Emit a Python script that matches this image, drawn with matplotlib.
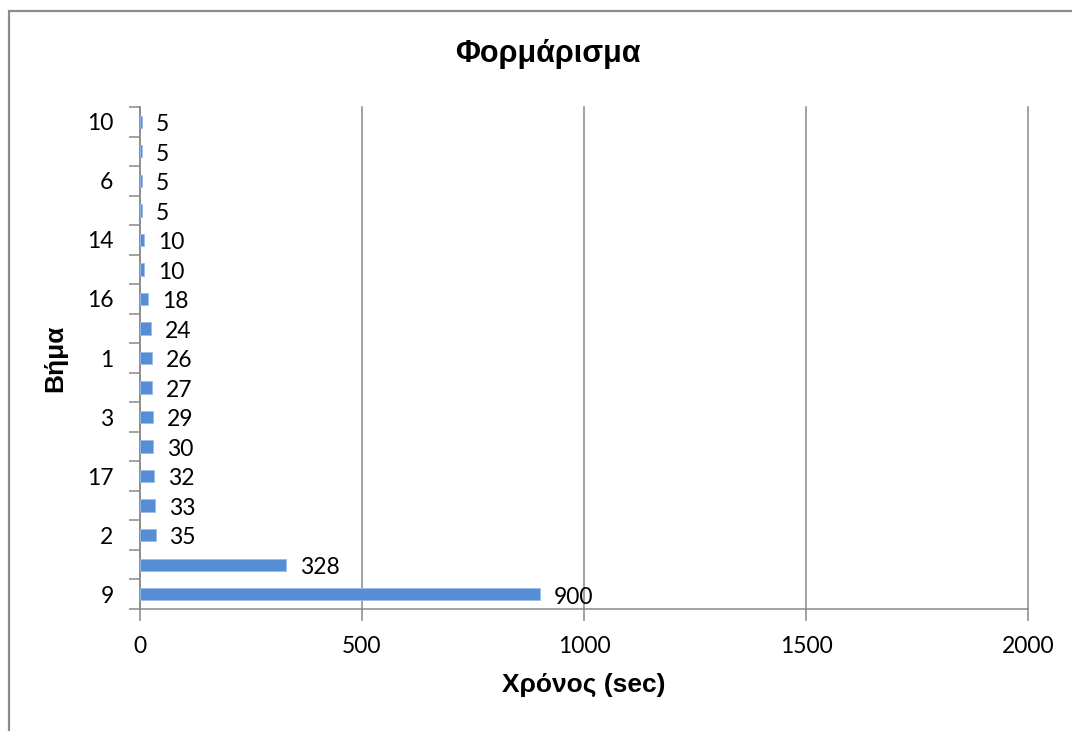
import matplotlib
matplotlib.use("Agg")
import matplotlib.pyplot as plt
from matplotlib.patches import Rectangle
from matplotlib.ticker import FixedLocator

# steps listed bottom to top, with their times in seconds
steps = ['9', '8', '2', '4', '17', '13', '3', '5', '1', '12', '16', '15', '14', '11', '6', '7', '10']
times = [900, 328, 35, 33, 32, 30, 29, 27, 26, 24, 18, 10, 10, 5, 5, 5, 5]
x_ticks = [0, 500, 1000, 1500, 2000]

BAR = '#558ED5'
GRID = '#898989'
NUM_FONT = ['Lato', 'DejaVu Sans']
HEAD_FONT = ['Liberation Sans', 'DejaVu Sans']
NUM_SIZE = 16.5

W, H = 1072, 731
fig = plt.figure(figsize=(W / 100, H / 100), dpi=100)
ax = fig.add_axes([140 / W, 1 - 609 / H, (1028 - 140) / W, (609 - 107) / H])

pos = list(range(len(steps)))
ax.barh(pos, times, height=0.42, color=BAR, edgecolor='#9DBCE6', linewidth=0.6, zorder=3)

for y, v in zip(pos, times):
    ax.annotate(str(v), xy=(v, y), xytext=(10, -2), textcoords='offset points',
                ha='left', va='center', fontsize=NUM_SIZE, family=NUM_FONT, color='black')

ax.set_xlim(0, 2000)
ax.set_ylim(-0.5, len(steps) - 0.5)
ax.set_xticks(x_ticks)
ax.set_xticklabels([str(t) for t in x_ticks], family=NUM_FONT, fontsize=NUM_SIZE)
ax.grid(axis='x', color=GRID, linewidth=1.1, zorder=0)
for gl in ax.get_xgridlines():
    gl.set_clip_on(False)

# every other category label is shown, tick marks sit between categories
ax.set_yticks(pos)
ax.set_yticklabels([s if i % 2 == 0 else '' for i, s in enumerate(steps)],
                   family=NUM_FONT, fontsize=NUM_SIZE)
ax.yaxis.set_minor_locator(FixedLocator([p - 0.5 for p in pos] + [len(steps) - 0.5]))
ax.tick_params(axis='y', which='major', length=0, pad=19)
ax.tick_params(axis='y', which='minor', length=8, width=1.1, color=GRID, direction='out')
ax.tick_params(axis='x', which='major', length=8.5, width=1.1, color=GRID, direction='out', pad=11)

for side in ['top', 'right']:
    ax.spines[side].set_visible(False)
for side in ['left', 'bottom']:
    ax.spines[side].set_color(GRID)
    ax.spines[side].set_linewidth(1.1)

ax.set_xlabel('Χρόνος (sec)', family=HEAD_FONT, fontweight='bold', fontsize=19, labelpad=11)
ax.set_ylabel('Βήμα', family=HEAD_FONT, fontweight='bold', fontsize=19, labelpad=14)

fig.text(548 / W, 1 - 54 / H, 'Φορμάρισμα', family=HEAD_FONT, fontweight='bold',
         fontsize=22, ha='center', va='center')

# chart frame
fig.patches.append(Rectangle((9 / W, -0.01), 1.1, 1 - 11 / H + 0.01, transform=fig.transFigure,
                             fill=False, edgecolor='#8C8C8C', linewidth=1.6))

fig.savefig('out.png', dpi=100, facecolor='white')
